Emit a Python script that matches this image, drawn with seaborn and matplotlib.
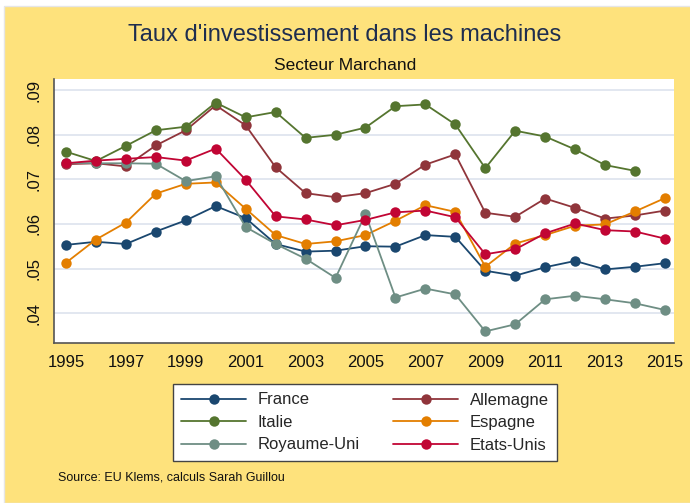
import pandas as pd
import matplotlib.pyplot as plt
import seaborn as sns
from matplotlib.patches import Rectangle
from matplotlib.ticker import FuncFormatter

# Données (taux d'investissement dans les machines)
annees = list(range(1995, 2016))
france = [.0553, .0560, .0555, .0583, .0608, .0640, .0613, .0555, .0538, .0540, .0550,
          .0549, .0575, .0571, .0495, .0484, .0503, .0517, .0498, .0504, .0512]
allemagne = [.0734, .0736, .0729, .0776, .0810, .0866, .0821, .0727, .0669, .0660, .0669,
             .0690, .0733, .0756, .0625, .0616, .0657, .0636, .0612, .0619, .0630]
italie = [.0762, .0741, .0775, .0810, .0818, .0872, .0839, .0851, .0793, .0800, .0816,
          .0864, .0868, .0823, .0725, .0809, .0796, .0767, .0732, .0719, None]
espagne = [.0513, .0565, .0603, .0668, .0690, .0693, .0634, .0575, .0555, .0561, .0575,
           .0607, .0642, .0627, .0504, .0556, .0575, .0596, .0599, .0628, .0658]
royaume_uni = [.0737, .0736, .0736, .0735, .0696, .0707, .0593, .0555, .0522, .0479, .0622,
               .0435, .0455, .0442, .0359, .0375, .0431, .0439, .0431, .0422, .0407]
etats_unis = [.0736, .0742, .0746, .0750, .0742, .0769, .0699, .0617, .0610, .0597, .0609,
              .0626, .0630, .0615, .0532, .0543, .0579, .0601, .0586, .0583, .0567]

pays = ["France", "Allemagne", "Italie", "Espagne", "Royaume-Uni", "Etats-Unis"]
series = [france, allemagne, italie, espagne, royaume_uni, etats_unis]
couleurs = ["#1a476f", "#90353b", "#55752f", "#e37e00", "#6e8e84", "#c10534"]

df = pd.concat(
    [pd.DataFrame({"annee": annees, "taux": s, "pays": p}) for p, s in zip(pays, series)],
    ignore_index=True,
)
df["taux"] = df["taux"].astype(float)

sns.set_style("white")
plt.rcParams["font.family"] = ["Liberation Sans", "DejaVu Sans"]

fond = "#fee27c"
fig = plt.figure(figsize=(6.9, 5.03), dpi=100, facecolor="white")
fig.add_artist(Rectangle((4 / 690, 0), 1, 1 - 6 / 503, transform=fig.transFigure,
                         facecolor=fond, edgecolor="#e6e6e6", linewidth=1, zorder=-10))

ax = fig.add_axes([54 / 690, 1 - 343 / 503, 620 / 690, 264 / 503])
ax.set_facecolor("white")

sns.lineplot(
    data=df, x="annee", y="taux", hue="pays", hue_order=pays,
    palette=dict(zip(pays, couleurs)), marker="o", markersize=7.5,
    markeredgewidth=0, linewidth=1.3, ax=ax,
)

ax.set_xlim(1994.6, 2015.3)
ax.set_ylim(0.0333, 0.0925)
ax.set_xticks(range(1995, 2016, 2))
ax.set_yticks([.04, .05, .06, .07, .08, .09])
ax.yaxis.set_major_formatter(FuncFormatter(lambda v, _: f"{v:.2f}".lstrip("0")))
ax.grid(axis="y", color="#dfe5ef", linewidth=1.3)
ax.grid(axis="x", visible=False)
ax.set_axisbelow(True)
for cote in ["top", "right"]:
    ax.spines[cote].set_visible(False)
for cote in ["left", "bottom"]:
    ax.spines[cote].set_color("#555555")
    ax.spines[cote].set_linewidth(1.2)
ax.tick_params(axis="both", direction="out", length=5, width=1, color="#555555",
               labelsize=12, labelcolor="#111111")
ax.tick_params(axis="y", pad=4)
for lbl in ax.get_yticklabels():
    lbl.set_rotation(90)
    lbl.set_va("center")
ax.set_xlabel("")
ax.set_ylabel("")

# Légende en deux colonnes sous le graphique
handles, labels = ax.get_legend_handles_labels()
ordre = [0, 2, 4, 1, 3, 5]
ax.get_legend().remove()
leg = fig.legend(
    [handles[i] for i in ordre], [labels[i] for i in ordre],
    ncol=2, loc="center", bbox_to_anchor=(365 / 690, 1 - 422.5 / 503),
    frameon=True, fancybox=False, framealpha=1, fontsize=12, handlelength=3.9,
    handletextpad=0.7, columnspacing=2.0, labelspacing=0.45, borderpad=0.5,
)
leg.get_frame().set_facecolor("white")
leg.get_frame().set_edgecolor("#444444")
leg.get_frame().set_linewidth(1.0)

fig.text(0.5, 1 - 35 / 503, "Taux d'investissement dans les machines",
         ha="center", va="center", fontsize=17, color="#1e2d4f")
fig.text(0.5, 1 - 65 / 503, "Secteur Marchand", ha="center", va="center",
         fontsize=12.5, color="#111111")
fig.text(58 / 690, 1 - 477 / 503, "Source: EU Klems, calculs Sarah Guillou",
         ha="left", va="center", fontsize=9, color="#111111")

fig.savefig("out.png", dpi=100, facecolor=fig.get_facecolor())
